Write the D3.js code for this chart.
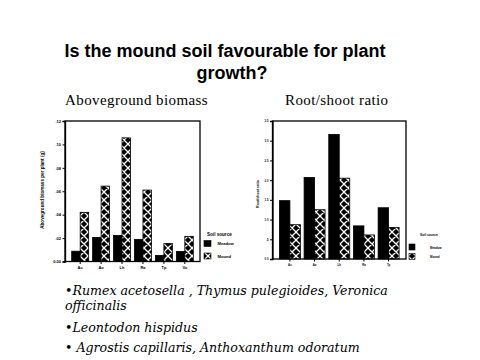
<!DOCTYPE html>
<html><head><meta charset="utf-8">
<script src="https://cdn.jsdelivr.net/npm/d3@7"></script>
<style>body{margin:0;background:#fff}svg{display:block}</style>
</head><body>
<svg id="c" width="480" height="360"></svg>
<script>
// ---- data ----
const titleLines = ["Is the mound soil favourable for plant", "growth?"];
const panelTitles = ["Aboveground biomass", "Root/shoot ratio"];
const soilSources = ["Meadow", "Mound"];
const biomassSpecies = ["Ac", "Ao", "Lh", "Ra", "Tp", "Vo"];
const biomassMeadow = [0.0088, 0.0206, 0.0223, 0.0189, 0.0052, 0.0086];
const biomassMound  = [0.0420, 0.0644, 0.1056, 0.0610, 0.0155, 0.0215];
const biomassTicks = [0, 0.02, 0.04, 0.06, 0.08, 0.10, 0.12];
const biomassTickLabels = ["0.00", ".02", ".04", ".06", ".08", ".10", ".12"];
const ratioSpecies = ["Ac", "Ao", "Lh", "Ra", "Tp"];
const ratioMeadow = [1.48, 2.07, 3.16, 0.84, 1.30];
const ratioMound  = [0.87, 1.25, 2.05, 0.61, 0.80];
const ratioTicks = [0, 0.5, 1, 1.5, 2, 2.5, 3, 3.5];
const ratioTickLabels = ["0.0", ".5", "1.0", "1.5", "2.0", "2.5", "3.0", "3.5"];
const bullets = [
  ["•Rumex acetosella , Thymus pulegioides, Veronica", "officinalis"],
  ["•Leontodon hispidus"],
  ["• Agrostis capillaris, Anthoxanthum odoratum"]
];

const svg = d3.select("#c");
const defs = svg.append("defs");
const pat = defs.append("pattern").attr("id","hatch").attr("patternUnits","userSpaceOnUse")
  .attr("width",8).attr("height",8);
pat.append("rect").attr("width",8).attr("height",8).attr("fill","#000");
pat.append("path").attr("d","M0,0L8,8M8,0L0,8M-1,7L1,9M7,-1L9,1M-1,1L1,-1M7,9L9,7")
  .attr("stroke","#fff").attr("stroke-width",1.3);

// title
svg.append("text").attr("x",225).attr("y",57).attr("text-anchor","middle")
  .attr("font-family","Liberation Sans, Arial, sans-serif").attr("font-weight","bold")
  .attr("font-size",18).text(titleLines[0]);
svg.append("text").attr("x",232).attr("y",79).attr("text-anchor","middle")
  .attr("font-family","Liberation Sans, Arial, sans-serif").attr("font-weight","bold")
  .attr("font-size",18).text(titleLines[1]);
svg.append("text").attr("x",65).attr("y",105).attr("font-family","Liberation Serif, serif")
  .attr("font-size",15).attr("letter-spacing",0.4).text(panelTitles[0]);
svg.append("text").attr("x",285).attr("y",105).attr("font-family","Liberation Serif, serif")
  .attr("font-size",15).attr("letter-spacing",0.4).text(panelTitles[1]);

function panel(cfg){
  const g = svg.append("g");
  const x0 = d3.scaleBand().domain(cfg.species).range([cfg.x0, cfg.x1])
    .paddingInner(cfg.pi).paddingOuter(cfg.po);
  const x1 = d3.scaleBand().domain(soilSources).range([0, x0.bandwidth()]);
  const y = d3.scaleLinear().domain([0, cfg.max]).range([cfg.yb, cfg.yt]);
  // bars
  cfg.species.forEach((s,i)=>{
    [cfg.meadow[i], cfg.mound[i]].forEach((v,j)=>{
      g.append("rect").attr("x", x0(s)+x1(soilSources[j])).attr("y", y(v))
        .attr("width", x1.bandwidth()).attr("height", y(0)-y(v))
        .attr("fill", j===0 ? "#000" : "url(#hatch)").attr("stroke","#000").attr("stroke-width",0.8);
    });
  });
  // frame
  g.append("rect").attr("x",cfg.x0).attr("y",cfg.yt).attr("width",cfg.x1-cfg.x0)
    .attr("height",cfg.yb-cfg.yt).attr("fill","none").attr("stroke","#000").attr("stroke-width",1.3);
  // y axis
  const ya = g.append("g").attr("transform",`translate(${cfg.x0},0)`)
    .call(d3.axisLeft(y).tickValues(cfg.ticks).tickSize(2.5).tickPadding(1.5)
      .tickFormat((d,i)=>cfg.tickLabels[i]));
  ya.select(".domain").attr("stroke-width",1.3);
  ya.selectAll("text").attr("font-size",cfg.fs).attr("font-weight","bold").attr("font-family","Liberation Sans, Arial, sans-serif");
  // x axis
  const xa = g.append("g").attr("transform",`translate(0,${cfg.yb})`)
    .call(d3.axisBottom(x0).tickSize(2.5).tickPadding(2.5));
  xa.select(".domain").remove();
  xa.selectAll("text").attr("font-size",cfg.fs).attr("font-weight","bold").attr("font-family","Liberation Sans, Arial, sans-serif");
  // y label
  g.append("text").attr("transform",`translate(${cfg.ylx},${cfg.yly}) rotate(-90)`)
    .attr("text-anchor","middle").attr("font-size",cfg.lfs).attr("font-weight","bold")
    .attr("font-family","Liberation Sans, Arial, sans-serif").text(cfg.ylabel);
  // legend
  const L = cfg.legend;
  g.append("text").attr("x",L.x).attr("y",L.y).attr("font-size",L.fs).attr("font-weight","bold")
    .attr("font-family","Liberation Sans, Arial, sans-serif").text("Soil source");
  soilSources.forEach((s,j)=>{
    g.append("rect").attr("x",L.sx).attr("y",L.sy+j*L.dy).attr("width",L.sw).attr("height",6)
      .attr("fill", j===0 ? "#000" : "url(#hatch)").attr("stroke","#000").attr("stroke-width",0.6);
    g.append("text").attr("x",L.tx).attr("y",L.sy+j*L.dy+4.5).attr("font-size",L.fs*0.9)
      .attr("font-weight","bold").attr("font-family","Liberation Sans, Arial, sans-serif").text(s);
  });
}

panel({species:biomassSpecies, meadow:biomassMeadow, mound:biomassMound, max:0.12,
  ticks:biomassTicks, tickLabels:biomassTickLabels, x0:65, x1:200, yt:121, yb:261.5,
  pi:0.19, po:0.32, fs:4, lfs:4.6, ylabel:"Aboveground biomass per plant (g)", ylx:44, yly:190,
  legend:{x:207, y:236, fs:4.6, sx:204, sy:240.5, dy:12.5, sw:7, tx:217.5}});
panel({species:ratioSpecies, meadow:ratioMeadow, mound:ratioMound, max:3.5,
  ticks:ratioTicks, tickLabels:ratioTickLabels, x0:272.5, x1:406, yt:121, yb:259,
  pi:0.15, po:0.28, fs:2.8, lfs:3.6, ylabel:"Root/shoot ratio", ylx:259, yly:194,
  legend:{x:420, y:236, fs:3.3, sx:409, sy:244, dy:9.5, sw:6, tx:430}});

// bullets
const bt = svg.append("g").attr("font-family","DejaVu Serif, serif").attr("font-style","italic").attr("font-size",12.6);
const bY = [[294.5, 310], [332], [352]];
bullets.forEach((lines,i)=>{
  lines.forEach((t,k)=>{
    bt.append("text").attr("x",65).attr("y",bY[i][k]).text(t);
  });
});
</script>
</body></html>
